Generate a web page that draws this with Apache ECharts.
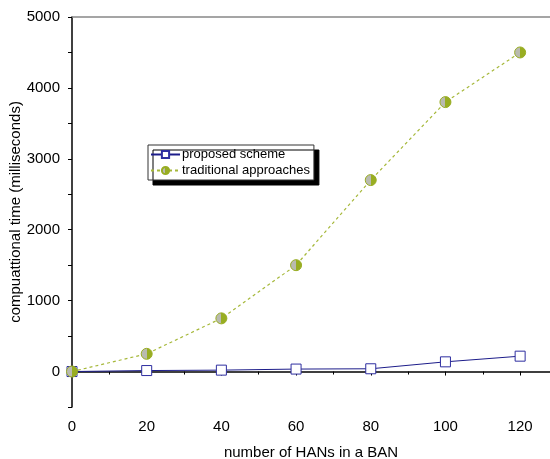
<!DOCTYPE html>
<html>
<head>
<meta charset="utf-8">
<script src="https://cdn.jsdelivr.net/npm/echarts@6/dist/echarts.min.js"></script>
<style>
html, body { margin: 0; padding: 0; background: #fff; }
#chart { width: 550px; height: 459px; }
</style>
</head>
<body>
<div id="chart"></div>
<script>
var hanCounts = [0, 20, 40, 60, 80, 100, 120];
var proposedTimes = [0, 14, 20, 35, 39, 137, 217];
var traditionalTimes = [0, 250, 750, 1500, 2700, 3800, 4500];

function pairs(xs, ys) {
	var out = [];
	for (var i = 0; i < xs.length; i++) out.push([xs[i], ys[i]]);
	return out;
}

var dotFill = new echarts.graphic.LinearGradient(0, 0, 1, 0, [
	{ offset: 0, color: '#b9bab0' },
	{ offset: 0.5, color: '#b9bab0' },
	{ offset: 0.5, color: '#98ad22' },
	{ offset: 1, color: '#98ad22' }
]);

var myChart = echarts.init(document.getElementById('chart'));
var option = {
	animation: false,
	grid: { left: 72, right: 0, top: 17, bottom: 52, outerBoundsMode: 'none', containLabel: false },
	legend: {
		orient: 'vertical',
		left: 148,
		top: 145,
		padding: [3, 4, 3, 2],
		itemGap: 3,
		itemWidth: 29,
		itemHeight: 9,
		backgroundColor: '#fff',
		borderColor: '#333',
		borderWidth: 1,
		borderRadius: 0,
		shadowColor: '#000',
		shadowBlur: 0,
		shadowOffsetX: 5,
		shadowOffsetY: 5,
		textStyle: { fontFamily: 'Liberation Sans', fontSize: 13, color: '#000', padding: [0, 0, 0, -3] },
		data: ['proposed scheme', 'traditional approaches']
	},
	xAxis: [{
		type: 'value',
		min: 0,
		max: 128,
		interval: 20,
		name: 'number of HANs in a BAN',
		nameLocation: 'middle',
		nameGap: 38,
		nameMoveOverlap: false,
		nameTextStyle: { fontFamily: 'Liberation Sans', fontSize: 15, color: '#000' },
		axisLine: { lineStyle: { color: '#000', width: 1.5 } },
		axisTick: { inside: false, length: 4, lineStyle: { color: '#000' } },
		minorTick: { show: true, splitNumber: 2, length: 3, lineStyle: { color: '#000' } },
		axisLabel: {
			fontFamily: 'Liberation Sans', fontSize: 15, color: '#000', margin: 12,
			formatter: function (v) { return v <= 120 ? v : ''; }
		},
		splitLine: { show: false }
	}, {
		type: 'value',
		position: 'top',
		min: 0,
		max: 128,
		axisLine: { show: true, onZero: false, lineStyle: { color: '#888', width: 1.5 } },
		axisTick: { show: false },
		axisLabel: { show: false },
		splitLine: { show: false }
	}],
	yAxis: {
		type: 'value',
		min: -500,
		max: 5000,
		interval: 500,
		name: 'compuattional time (milliseconds)',
		nameLocation: 'middle',
		nameGap: 49,
		nameMoveOverlap: false,
		nameTextStyle: { fontFamily: 'Liberation Sans', fontSize: 15, color: '#000' },
		axisLine: { show: true, lineStyle: { color: '#000', width: 1.5 } },
		axisTick: { inside: false, length: 4, lineStyle: { color: '#000' } },
		axisLabel: {
			fontFamily: 'Liberation Sans', fontSize: 15, color: '#000', margin: 12,
			formatter: function (v) { return v >= 0 && v % 1000 === 0 ? v : ''; }
		},
		splitLine: { show: false }
	},
	series: [{
		name: 'proposed scheme',
		type: 'line',
		data: pairs(hanCounts, proposedTimes),
		symbol: 'rect',
		symbolSize: 10,
		itemStyle: { color: '#fff', borderColor: '#2e2ea0', borderWidth: 1 },
		lineStyle: { color: '#1c1c8a', width: 1 },
		z: 2
	}, {
		name: 'traditional approaches',
		type: 'line',
		data: pairs(hanCounts, traditionalTimes),
		symbol: 'circle',
		symbolSize: 11,
		itemStyle: { color: dotFill, borderColor: '#98ad22', borderWidth: 1 },
		lineStyle: { color: '#a6b83a', width: 1.2, type: [3, 3] },
		z: 3
	}]
};
myChart.setOption(option);
</script>
</body>
</html>
